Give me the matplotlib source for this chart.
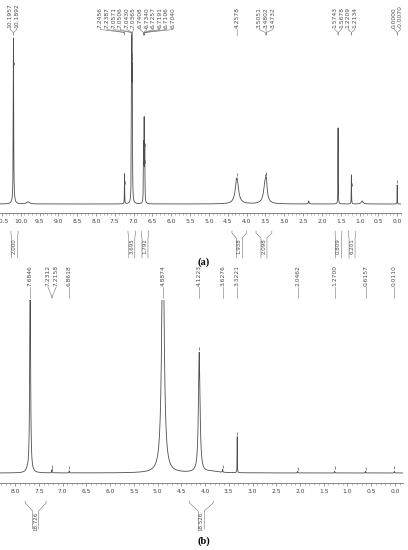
import numpy as np
import matplotlib
matplotlib.use("Agg")
import matplotlib.pyplot as plt
from matplotlib.lines import Line2D
from matplotlib.ticker import MultipleLocator, FormatStrFormatter

W, H = 408, 550

# ---------------- panel (a) ----------------
a_peak_ppm = [10.192, 10.19, 9.80, 7.242, 7.057, 7.047, 7.036, 6.737, 6.721, 6.705,
              4.258, 3.505, 3.474, 2.35, 1.571, 1.217, 0.93, 0.0]
a_peak_height = [160, 6, 2, 30, 110, 140, 110, 55, 78, 50,
                 26, 22, 10, 3, 76, 29, 3, 19]
a_peak_width = [0.006, 0.03, 0.05, 0.004, 0.005, 0.005, 0.005, 0.005, 0.005, 0.005,
                0.05, 0.05, 0.02, 0.01, 0.004, 0.004, 0.03, 0.003]
a_picked = [[10.1957, 10.1892],
            [7.2456, 7.2387, 7.0571, 7.0506, 7.0430, 7.0365,
             6.7408, 6.7340, 6.7257, 6.7191, 6.7106, 6.7040],
            [4.2578],
            [3.5051, 3.4802, 3.4732],
            [1.5743, 1.5678],
            [1.2209, 1.2134],
            [0.0000, -0.0070]]
a_int_from = [10.26, 7.15, 6.80, 4.39, 3.75, 1.65, 1.30]
a_int_to = [10.07, 6.95, 6.60, 4.00, 3.33, 1.47, 1.10]
a_int_val = ["2.000", "3.695", "1.792", "1.938", "2.098", "0.809", "6.201"]

# ---------------- panel (b) ----------------
b_peak_ppm = [7.6846, 7.75, 7.23, 6.86, 4.8874, 4.1223, 3.85, 3.63, 3.3221,
              2.05, 1.27, 0.62, 0.011]
b_peak_height = [220, 2, 3, 2, 260, 120, 1.5, 3, 36, 1.5, 1.5, 1.5, 1.5]
b_peak_width = [0.01, 0.03, 0.005, 0.005, 0.03, 0.02, 0.15, 0.005, 0.003,
                0.005, 0.005, 0.005, 0.005]
b_picked = [[7.6846], [7.2312, 7.2158], [6.8618], [4.8874], [4.1223],
            [3.6276], [3.3221], [2.0462], [1.2700], [0.6157], [0.0110]]
b_int_from = [7.79, 4.33]
b_int_to = [7.35, 3.83]
b_int_val = ["18.726", "18.526"]


def spectrum(x, pos, hgt, wid):
    y = np.zeros_like(x)
    for p, h, w in zip(pos, hgt, wid):
        y += h / (1.0 + ((x - p) / w) ** 2)
    return y


def fx(p):
    return p / W


def fy(p):
    return 1.0 - p / H


def px(ax, ppm):
    return ax.transData.transform((ppm, 0))[0]


def spread(xs, gap):
    clusters = [[x] for x in xs]
    merged = True
    while merged:
        merged = False
        out = []
        for c in clusters:
            if out:
                prev = out[-1]
                pr = np.mean(prev) + (len(prev) - 1) * gap / 2
                cl = np.mean(c) - (len(c) - 1) * gap / 2
                if cl - pr < gap:
                    out[-1] = prev + c
                    merged = True
                    continue
            out.append(c)
        clusters = out
    res = []
    for c in clusters:
        m = np.mean(c)
        n = len(c)
        res += [m + (i - (n - 1) / 2) * gap for i in range(n)]
    return res


def line(fig, xs, ys, lw=0.4, color='0.45'):
    fig.add_artist(Line2D([fx(v) for v in xs], [fy(v) for v in ys],
                          transform=fig.transFigure, lw=lw, color=color))


def panel(fig, rect_px, xlim, ylim, pos, hgt, wid, picked, gap,
          lab_bot, conv_y, end_y, int_from, int_to, int_val, int_y):
    left, top, width, bottom = rect_px
    ax = fig.add_axes([fx(left), fy(bottom), width / W, (bottom - top) / H])
    x = np.linspace(xlim[1], xlim[0], 80000)
    y = spectrum(x, pos, hgt, wid)
    ax.plot(x, y, color='0.3', lw=0.6)
    ax.set_xlim(*xlim)
    ax.set_ylim(*ylim)
    for s in ['left', 'right', 'top']:
        ax.spines[s].set_visible(False)
    ax.spines['bottom'].set_color('0.45')
    ax.spines['bottom'].set_linewidth(0.6)
    ax.set_yticks([])
    ax.xaxis.set_major_locator(MultipleLocator(0.5))
    ax.xaxis.set_minor_locator(MultipleLocator(0.1))
    ax.xaxis.set_major_formatter(FormatStrFormatter('%.1f'))
    ax.tick_params(axis='x', which='major', length=2.2, width=0.5, color='0.45',
                   labelsize=4.3, labelcolor='0.25', pad=2)
    ax.tick_params(axis='x', which='minor', length=1.2, width=0.4, color='0.5')

    # peak labels
    flat = [v for g in picked for v in g]
    peak_px = [px(ax, v) for v in flat]
    lab_px = spread(peak_px, gap)
    for v, pp, lp in zip(flat, peak_px, lab_px):
        fig.text(fx(lp), fy(lab_bot), f"{v:.4f}", rotation=90, ha='center',
                 va='bottom', fontsize=4.3, color='0.3')
        line(fig, [lp, lp, pp, pp],
             [lab_bot + 0.5, lab_bot + 1.5, conv_y, end_y])
        yv = np.interp(v, x, y)
        ax.vlines(v, yv + 2, yv + 5, color='0.35', lw=0.5)

    # integrals
    ytop, ybend, ybot = int_y
    for a0, a1, val in zip(int_from, int_to, int_val):
        p0, p1 = px(ax, a0), px(ax, a1)
        c = (p0 + p1) / 2
        hw = 3.0
        line(fig, [p0, p0, c - hw, c - hw], [ytop, ytop + 2, ybend, ybot])
        line(fig, [p1, p1, c + hw, c + hw], [ytop, ytop + 2, ybend, ybot])
        fig.text(fx(c), fy(ybend + 0.5), val, rotation=90, ha='center',
                 va='top', fontsize=4.0, color='0.3')
    return ax


fig = plt.figure(figsize=(W / 100, H / 100), dpi=100)

panel(fig, (0, 35, 401, 213), (10.55, -0.1), (-9, 169),
      a_peak_ppm, a_peak_height, a_peak_width, a_picked, 6.6,
      28, 32.5, 35, a_int_from, a_int_to, a_int_val, (231, 238, 258))
fig.text(fx(204), fy(262), "(a)", ha='center', va='center', fontsize=7.5,
         fontweight='bold', family='Liberation Serif')

panel(fig, (0, 300, 403, 483), (8.32, -0.17), (-10, 173),
      b_peak_ppm, b_peak_height, b_peak_width, b_picked, 8,
      286, 296, 298, b_int_from, b_int_to, b_int_val, (501, 511, 529))
fig.text(fx(204), fy(541), "(b)", ha='center', va='center', fontsize=7.5,
         fontweight='bold', family='Liberation Serif')

fig.savefig("out.png", dpi=100)
